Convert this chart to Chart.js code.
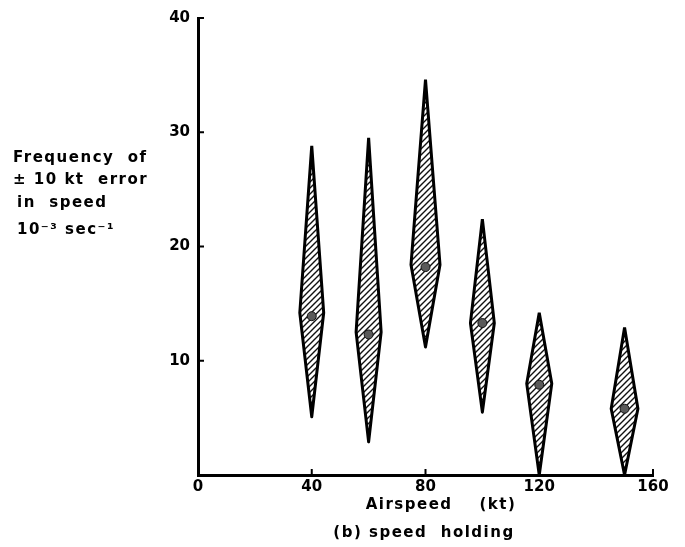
<!DOCTYPE html>
<html>
<head>
<meta charset="utf-8">
<script src="https://cdn.jsdelivr.net/npm/chart.js@4.4.1/dist/chart.umd.min.js"></script>
<style>
  html, body { margin: 0; padding: 0; background: #fff; }
  #wrap { width: 685px; height: 547px; }
</style>
</head>
<body>
<div id="wrap"><canvas id="speedChart" width="685" height="547"></canvas></div>
<script>
// airspeed (kt) of each run
const speeds = [40, 60, 80, 100, 120, 150];
// frequency of +-10 kt error, 10^-3 per sec
const upper = [28.8, 29.5, 34.6, 22.4, 14.2, 12.9];
const lower = [5.1, 2.9, 11.2, 5.5, 0, 0];
const widest = [14.2, 12.5, 18.4, 13.3, 8.0, 5.8];
const means = [13.9, 12.3, 18.2, 13.3, 7.9, 5.8];
// half width of each diamond, in kt
const halfWidth = [4.2, 4.4, 5.1, 4.2, 4.4, 4.7];

const xTicks = [0, 40, 80, 120, 160];
const yTicks = [0, 10, 20, 30, 40];

const FONT = '"DejaVu Sans", sans-serif';

// diagonal hatching for the diamonds
function makeHatch() {
  const c = document.createElement('canvas');
  c.width = 6; c.height = 6;
  const g = c.getContext('2d');
  g.strokeStyle = '#111';
  g.lineWidth = 1.4;
  g.beginPath();
  g.moveTo(0, 6); g.lineTo(6, 0);
  g.moveTo(-1, 1); g.lineTo(1, -1);
  g.moveTo(5, 7); g.lineTo(7, 5);
  g.stroke();
  return g.createPattern(c, 'repeat');
}

const ctx = document.getElementById('speedChart').getContext('2d');
const hatch = makeHatch();

const diamonds = speeds.map((s, i) => ({
  data: [
    { x: s, y: upper[i] },
    { x: s + halfWidth[i], y: widest[i] },
    { x: s, y: lower[i] },
    { x: s - halfWidth[i], y: widest[i] },
    { x: s, y: upper[i] }
  ],
  showLine: true,
  fill: 'shape',
  backgroundColor: hatch,
  borderColor: '#000',
  borderWidth: 3,
  borderJoinStyle: 'round',
  tension: 0,
  pointRadius: 0,
  clip: 8,
  order: 2
}));

const meanPoints = {
  data: speeds.map((s, i) => ({ x: s, y: means[i] })),
  showLine: false,
  pointRadius: 4.5,
  pointBackgroundColor: '#5a5a5a',
  pointBorderColor: '#111',
  pointBorderWidth: 1,
  order: 1
};

// inward tick marks plus the free-standing labels
const annotations = {
  id: 'annotations',
  afterDraw(chart) {
    const c = chart.ctx;
    const xs = chart.scales.x, ys = chart.scales.y;
    const area = chart.chartArea;
    c.save();
    c.strokeStyle = '#000';
    c.lineWidth = 2;
    c.beginPath();
    xTicks.slice(1).forEach(v => {
      const px = xs.getPixelForValue(v);
      c.moveTo(px, area.bottom); c.lineTo(px, area.bottom - 6);
    });
    yTicks.slice(1).forEach(v => {
      const py = ys.getPixelForValue(v);
      c.moveTo(area.left, py); c.lineTo(area.left + 6, py);
    });
    c.stroke();

    c.fillStyle = '#000';
    c.font = 'bold 15px ' + FONT;
    c.textAlign = 'left';
    c.textBaseline = 'alphabetic';
    c.letterSpacing = '1.5px';
    c.fillText('Frequency  of', 13, 162);
    c.fillText('± 10 kt  error', 13, 184);
    c.fillText('in  speed', 17, 207);
    c.fillText('10⁻³ sec⁻¹', 17, 234);

    c.textAlign = 'center';
    c.fillText('Airspeed    (kt)', 441, 509);
    c.fillText('(b) speed  holding', 424, 537);
    c.restore();
  }
};

new Chart(ctx, {
  type: 'scatter',
  data: { datasets: [meanPoints, ...diamonds] },
  options: {
    responsive: false,
    animation: false,
    layout: { padding: { left: 0, right: 32, top: 18, bottom: 0 } },
    plugins: {
      legend: { display: false },
      tooltip: { enabled: false }
    },
    scales: {
      x: {
        type: 'linear',
        min: 0,
        max: 160,
        afterFit: s => { s.height = 72; },
        afterBuildTicks: s => { s.ticks = xTicks.map(v => ({ value: v })); },
        grid: { display: false, drawTicks: false },
        border: { display: true, color: '#000', width: 3 },
        ticks: { color: '#000', padding: 3, font: { family: FONT, size: 15, weight: 'bold' } }
      },
      y: {
        type: 'linear',
        min: 0,
        max: 40,
        afterFit: s => { s.width = 198; },
        afterBuildTicks: s => { s.ticks = yTicks.map(v => ({ value: v })); },
        grid: { display: false, drawTicks: false },
        border: { display: true, color: '#000', width: 3 },
        ticks: {
          color: '#000',
          padding: 8,
          font: { family: FONT, size: 15, weight: 'bold' },
          callback: v => (v === 0 ? '' : v)
        }
      }
    }
  },
  plugins: [annotations]
});
</script>
</body>
</html>
